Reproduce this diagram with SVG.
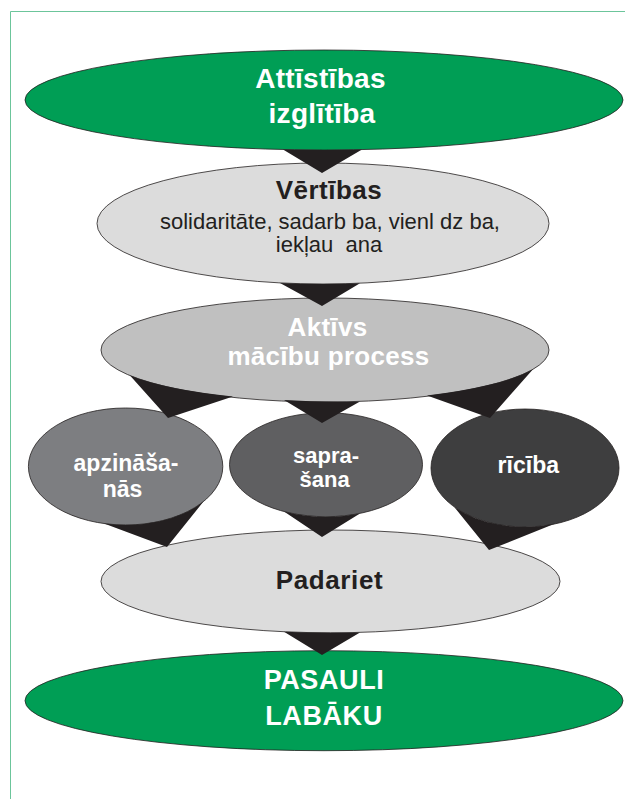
<svg xmlns="http://www.w3.org/2000/svg" width="625" height="799" viewBox="0 0 625 799">
<style>
.e{stroke:#231f20;stroke-width:0.8}
.g{fill:#009e55}
.l{fill:#dcdcdc}
.m{fill:#c0c0c0}
.t{font-family:"Liberation Sans",Arial,sans-serif;font-weight:bold;text-anchor:middle}
.w{fill:#ffffff}
.k{fill:#231f20}
.r{font-family:"Liberation Sans",Arial,sans-serif;font-weight:normal;text-anchor:middle;fill:#231f20;font-size:22px}
.c{fill:#231f20;stroke:none}
</style>
<rect x="0" y="0" width="625" height="799" fill="#ffffff"/>
<path d="M10.5,799 V11.5 H625" fill="none" stroke="#6cc59b" stroke-width="1"/>

<g id="node-attistibas">
<ellipse class="e g" cx="324" cy="100" rx="299" ry="50"/>
<text class="t w" font-size="28" letter-spacing="0.3" x="320.5" y="88">Attīstības</text>
<text class="t w" font-size="28" letter-spacing="0.3" x="322" y="123">izglītība</text>
</g>

<g id="node-vertibas">
<ellipse class="e l" cx="323" cy="223.5" rx="226" ry="60.5"/>
<text class="t k" font-size="26" letter-spacing="0.5" x="329" y="199">Vērtības</text>
<text class="r" x="330" y="229">solidaritāte, sadarb ba, vienl dz ba,</text>
<text class="r" x="329" y="252" xml:space="preserve">iekļau  ana</text>
</g>

<g id="node-aktivs">
<ellipse class="e m" cx="325" cy="350" rx="224" ry="52"/>
<text class="t w" font-size="26" letter-spacing="0.3" x="327.5" y="336">Aktīvs</text>
<text class="t w" font-size="26" letter-spacing="0.3" x="328.5" y="365">mācību process</text>
</g>

<g id="node-apzinasanas">
<ellipse class="e" fill="#7d7e81" cx="125.6" cy="466.5" rx="97.2" ry="58.5"/>
<text class="t w" font-size="23" x="126" y="470.7">apzināša-</text>
<text class="t w" font-size="23" x="122.5" y="497.3">nās</text>
</g>

<g id="node-saprasana">
<ellipse class="e" fill="#5f5f61" cx="326" cy="464.7" rx="96.5" ry="52"/>
<text class="t w" font-size="22" x="326" y="463.3">sapra-</text>
<text class="t w" font-size="22" x="324.7" y="486.7">šana</text>
</g>

<g id="node-riciba">
<ellipse class="e" fill="#3e3e3f" cx="525" cy="468" rx="94" ry="59"/>
<text class="t w" font-size="23" x="528.3" y="472.7">rīcība</text>
</g>

<g id="node-padariet">
<ellipse class="e l" cx="330.5" cy="581.4" rx="229.5" ry="51.4"/>
<text class="t k" font-size="26" letter-spacing="0.6" x="329.5" y="589.3">Padariet</text>
</g>

<g id="node-pasauli">
<ellipse class="e g" cx="324" cy="700.7" rx="299" ry="50"/>
<text class="t w" font-size="27" letter-spacing="0.6" x="324" y="689">PASAULI</text>
<text class="t w" font-size="27" letter-spacing="0.6" x="324" y="725">LABĀKU</text>
</g>

<g id="connectors">
<path class="c" d="M283,149.5 A299,50 0 0 0 362,149.6 L322,173 Z"/>
<path class="c" d="M280,282.9 A226,60.5 0 0 0 360,283.2 L322,306 Z"/>
<path class="c" d="M130,375.6 A224,52 0 0 0 233,396.5 L168,418 Z"/>
<path class="c" d="M284,400.1 A224,52 0 0 0 360,401.4 L322,423 Z"/>
<path class="c" d="M427,395.5 A224,52 0 0 0 533,369.3 L490,418 Z"/>
<path class="c" d="M104,523.5 A97.2,58.5 0 0 0 203.7,501.3 L167,547 Z"/>
<path class="c" d="M284,511.5 A96.5,52 0 0 0 360,513.4 L322,537 Z"/>
<path class="c" d="M454,506.7 A94,59 0 0 0 554,524.1 L489,550 Z"/>
<path class="c" d="M284,631.7 A229.5,51.4 0 0 0 360,632.4 L322,655 Z"/>
</g>
</svg>
